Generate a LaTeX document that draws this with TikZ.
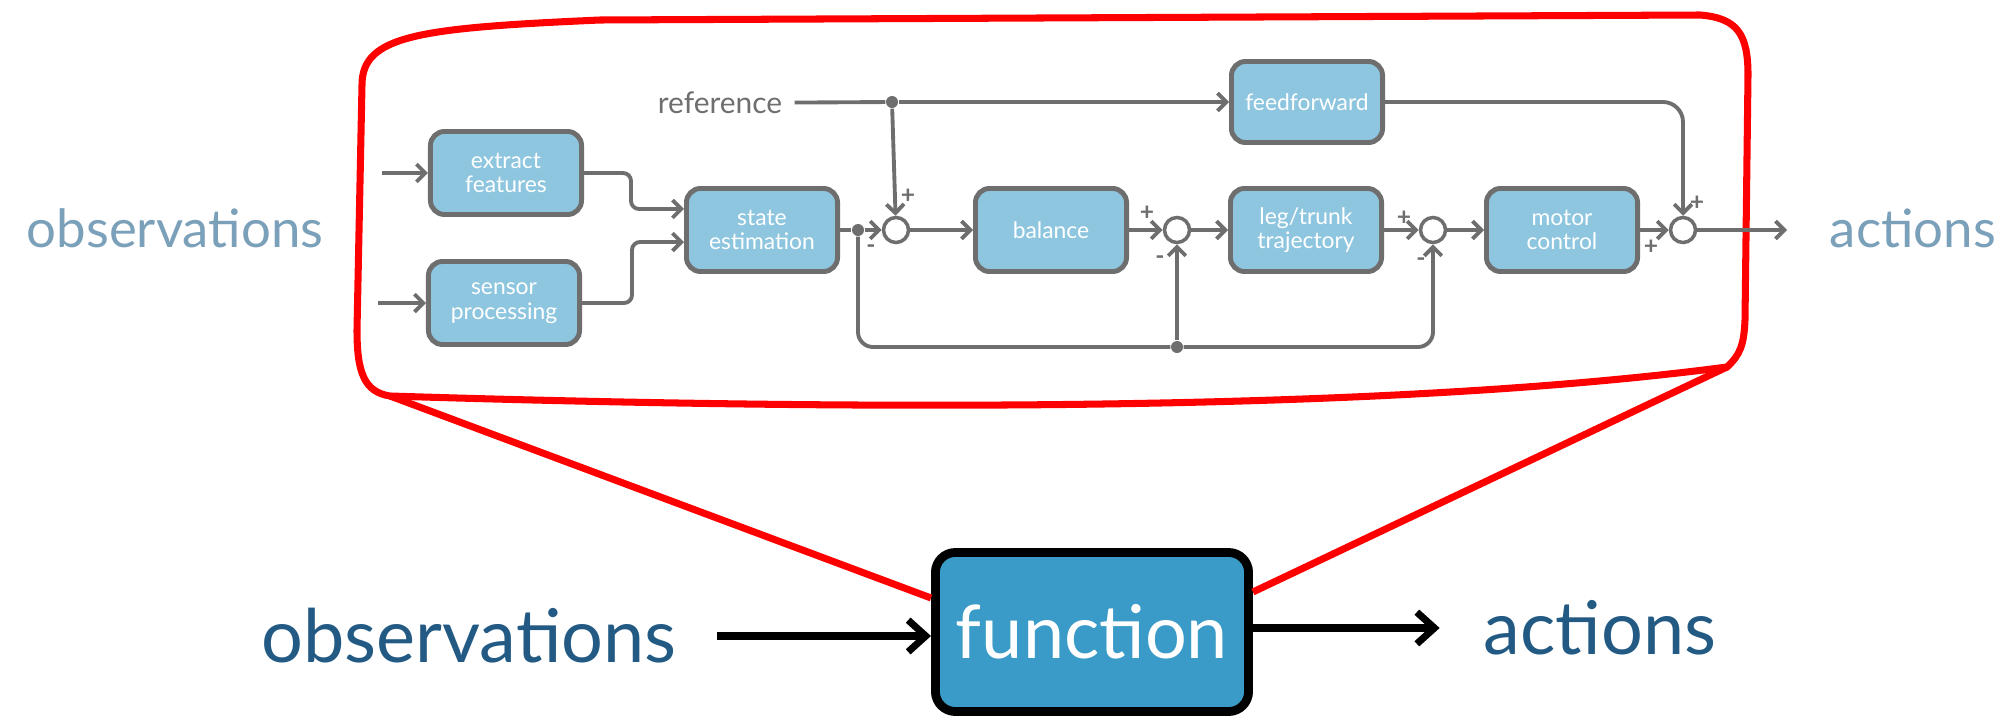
\documentclass[tikz,border=0pt]{standalone}
\usepackage{fontspec}
\setmainfont{Lato}
\usetikzlibrary{arrows.meta, positioning, calc}

\definecolor{boxblue}{HTML}{8EC6E0}
\definecolor{linegray}{HTML}{6E6E6E}
\definecolor{paleblue}{HTML}{7BA0BA}
\definecolor{darkblue}{HTML}{235A84}
\definecolor{funcblue}{HTML}{3A9BC8}

\begin{document}
\begin{tikzpicture}[x=0.01cm, y=-0.01cm,
  block/.style={draw=linegray, line width=1.4pt, fill=boxblue, rounded corners=4pt, text=white,
    font=\fontsize{6.5}{7}\selectfont, align=center, minimum width=1.51cm, minimum height=0.83cm, inner sep=1pt},
  sumpt/.style={circle, draw=linegray, line width=1pt, fill=white, minimum size=0.25cm, inner sep=0pt},
  dot/.style={circle, fill=linegray, minimum size=0.12cm, inner sep=0pt},
  wire/.style={draw=linegray, line width=1.1pt},
  link/.style={wire, -{Straight Barb[length=2.5pt,width=5pt]}},
  sign/.style={text=linegray, font=\fontsize{7}{7}\selectfont\bfseries, inner sep=0pt},
  zoomline/.style={red, line width=2pt},
  bigarrow/.style={line width=2pt, -{Straight Barb[length=5pt,width=9pt]}}]
  \useasboundingbox (0,0) rectangle (2002,718);

  % Zoomed-in controller outline
  \coordinate (zoomsw) at (390,396);
  \coordinate (zoomse) at (1727,367);
  \draw[zoomline] (zoomsw) .. controls (364,392) and (357,372) .. (357,330) -- (362,85)
    .. controls (362,35) and (420,28) .. (600,20) -- (1700,15)
    .. controls (1738,18) and (1748,35) .. (1748,75) -- (1745,320)
    .. controls (1744,345) and (1740,355) .. (zoomse)
    .. controls (1400,410) and (900,412) .. (zoomsw) -- cycle;

  % Blocks
  \node[block] (extract) at (506,173) {extract\\features};
  \node[block] (sensor) at (504,303) {sensor\\processing};
  \node[block] (state) at (762,230) {state\\estimation};
  \node[block] (balance) at (1051,230) {balance};
  \node[block] (traj) at (1306,230) {leg/trunk\\trajectory};
  \node[block] (motor) at (1562,230) {motor\\control};
  \node[block, minimum height=0.81cm] (ffwd) at (1307,102) {feedforward};

  % Summing junctions
  \node[sumpt] (sum1) at (896,230) {};
  \node[sumpt] (sum2) at (1177,230) {};
  \node[sumpt] (sum3) at (1433,230) {};
  \node[sumpt] (sum4) at (1683,230) {};

  % Branch points
  \node[dot] (split) at (858,230) {};
  \node[dot] (refsplit) at (892,102) {};
  \node[dot] (fb) at (1177,347) {};
  \coordinate (in1) at (382,173);
  \coordinate (in2) at (378,303);
  \coordinate (out) at (1787,230);

  % Reference
  \node[text=linegray, font=\fontsize{8.5}{9}\selectfont] (ref) at (720,103) {reference};

  % Signal flow
  \draw[link] (in1) -- (extract);
  \draw[link] (in2) -- (sensor);
  \draw[link, rounded corners=0.08cm] (extract.east) -- ++(47,0) |- ([yshift=0.21cm]state.west);
  \draw[link, rounded corners=0.08cm] (sensor.east) -- ++(50,0) |- ([yshift=-0.12cm]state.west);
  \draw[wire] (state) -- (split);
  \draw[link] (split) -- (sum1);
  \draw[wire] (ref) -- (refsplit);
  \draw[link] (refsplit) -- (ffwd);
  \draw[link] (refsplit) -- (sum1);
  \draw[link] (sum1) -- (balance);
  \draw[link] (balance) -- (sum2);
  \draw[link] (sum2) -- (traj);
  \draw[link] (traj) -- (sum3);
  \draw[link] (sum3) -- (motor);
  \draw[link] (motor) -- (sum4);
  \draw[link] (sum4) -- (out);
  \draw[link, rounded corners=0.2cm] (ffwd.east) -| (sum4);

  % Feedback
  \draw[wire, rounded corners=0.15cm] (split) |- (fb);
  \draw[link] (fb) -- (sum2);
  \draw[link, rounded corners=0.15cm] (fb) -| (sum3);

  % Signs
  \node[sign] at (908,196) {+};
  \node[sign] at (871,249) {-};
  \node[sign] at (1147,213) {+};
  \node[sign] at (1160,260) {-};
  \node[sign] at (1404,218) {+};
  \node[sign] at (1421,262) {-};
  \node[sign] at (1697,203) {+};
  \node[sign] at (1651,247) {+};

  % Outer labels
  \node[text=paleblue, font=\fontsize{15}{15}\selectfont] (obstop) at (175,228) {observations};
  \node[text=paleblue, font=\fontsize{15}{15}\selectfont] (acttop) at (1913,228) {actions};

  % Function block
  \node[draw=black, line width=2.5pt, fill=funcblue, rounded corners=0.2cm, minimum width=3.13cm, minimum height=1.59cm,
    text=white, font=\fontsize{21}{21}\selectfont] (func) at (1092,632) {function};
  \node[text=darkblue, font=\fontsize{21}{21}\selectfont] (obs) at (469,636) {observations};
  \node[text=darkblue, font=\fontsize{21}{21}\selectfont] (act) at (1600,628) {actions};
  \draw[bigarrow, shorten <=8pt] (obs.east) -- (obs.east -| func.west);
  \draw[bigarrow, shorten >=9pt] (func.east |- act.west) -- (act.west);

  % Zoom lines
  \draw[zoomline] (zoomsw) -- ([yshift=0.34cm]func.west);
  \draw[zoomline] (zoomse) -- ([yshift=0.4cm]func.east);
\end{tikzpicture}
\end{document}
